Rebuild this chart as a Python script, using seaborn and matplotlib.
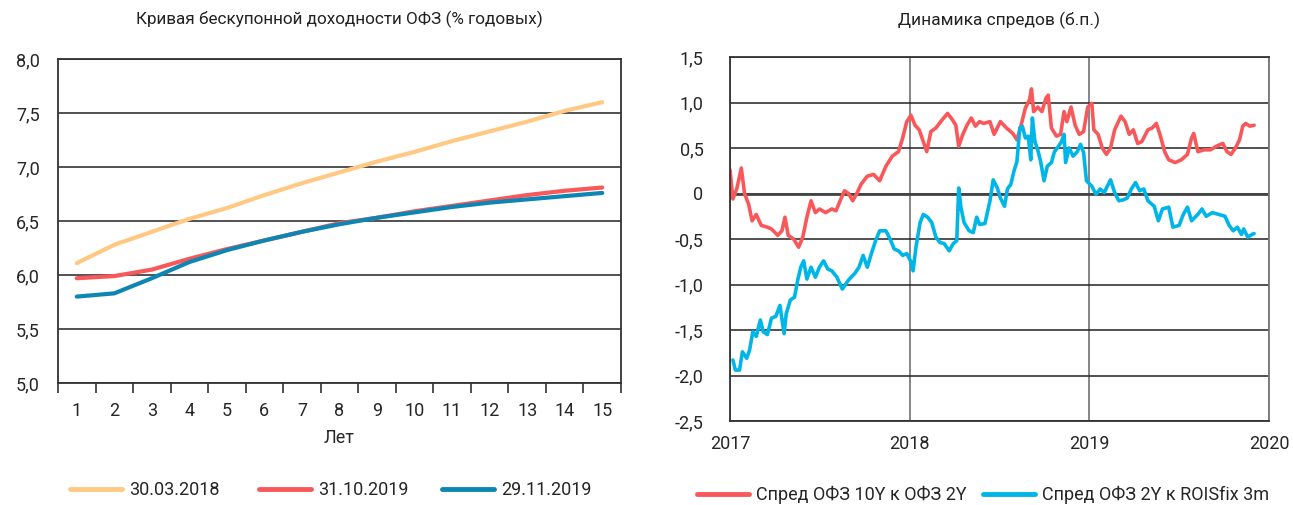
import matplotlib
matplotlib.use("Agg")
import matplotlib.pyplot as plt
import seaborn as sns
import pandas as pd
import numpy as np
from matplotlib.lines import Line2D
from matplotlib.ticker import FuncFormatter

# ---------------- data: left chart (yield curve) ----------------
years = list(range(1, 16))
curve_2018_03_30 = [6.11, 6.28, 6.40, 6.52, 6.62, 6.74, 6.85, 6.95, 7.05, 7.14, 7.24, 7.33, 7.42, 7.52, 7.60]
curve_2019_10_31 = [5.97, 5.99, 6.05, 6.15, 6.24, 6.32, 6.40, 6.48, 6.53, 6.59, 6.64, 6.69, 6.74, 6.78, 6.81]
curve_2019_11_29 = [5.80, 5.83, 5.97, 6.12, 6.23, 6.32, 6.40, 6.47, 6.53, 6.58, 6.63, 6.67, 6.70, 6.73, 6.76]
curve_labels = ["30.03.2018", "31.10.2019", "29.11.2019"]

# ---------------- data: right chart (spreads), x in decimal years ----------------
spread10y2y_t = [2017.000, 2017.016, 2017.039, 2017.063, 2017.081, 2017.104, 2017.123, 2017.146, 2017.174, 2017.208,
                 2017.231, 2017.266, 2017.289, 2017.306, 2017.324, 2017.354, 2017.382, 2017.405, 2017.428, 2017.451,
                 2017.475, 2017.498, 2017.532, 2017.567, 2017.590, 2017.613, 2017.637, 2017.660, 2017.683, 2017.706,
                 2017.729, 2017.764, 2017.799, 2017.833, 2017.868, 2017.903, 2017.938, 2017.961, 2017.984, 2018.007,
                 2018.030, 2018.053, 2018.076, 2018.095, 2018.118, 2018.146, 2018.181, 2018.211, 2018.238, 2018.257,
                 2018.273, 2018.296, 2018.319, 2018.343, 2018.366, 2018.389, 2018.412, 2018.447, 2018.470, 2018.505,
                 2018.539, 2018.574, 2018.597, 2018.620, 2018.644, 2018.667, 2018.678, 2018.690, 2018.713, 2018.736,
                 2018.759, 2018.771, 2018.789, 2018.817, 2018.840, 2018.859, 2018.875, 2018.898, 2018.921, 2018.944,
                 2018.968, 2018.991, 2019.014, 2019.025, 2019.049, 2019.072, 2019.095, 2019.118, 2019.141, 2019.176,
                 2019.199, 2019.222, 2019.245, 2019.269, 2019.292, 2019.326, 2019.350, 2019.373, 2019.396, 2019.419,
                 2019.442, 2019.477, 2019.512, 2019.546, 2019.569, 2019.581, 2019.604, 2019.639, 2019.674, 2019.708,
                 2019.743, 2019.766, 2019.789, 2019.813, 2019.836, 2019.854, 2019.870, 2019.894, 2019.917]
spread10y2y_v = [0.26, -0.06, 0.06, 0.28, 0.00, -0.12, -0.30, -0.23, -0.35, -0.37,
                 -0.39, -0.46, -0.41, -0.26, -0.46, -0.50, -0.59, -0.48, -0.26, -0.08,
                 -0.21, -0.17, -0.21, -0.17, -0.19, -0.08, 0.03, 0.00, -0.08, 0.00,
                 0.10, 0.19, 0.21, 0.14, 0.30, 0.41, 0.46, 0.61, 0.79, 0.86,
                 0.75, 0.70, 0.57, 0.46, 0.68, 0.72, 0.81, 0.88, 0.81, 0.75,
                 0.52, 0.65, 0.75, 0.83, 0.74, 0.79, 0.77, 0.79, 0.65, 0.79,
                 0.72, 0.66, 0.59, 0.75, 0.94, 1.03, 1.15, 0.90, 0.95, 0.90,
                 1.05, 1.08, 0.72, 0.63, 0.65, 0.90, 0.79, 0.95, 0.75, 0.65,
                 0.68, 0.95, 0.99, 0.70, 0.65, 0.50, 0.43, 0.50, 0.70, 0.85,
                 0.79, 0.65, 0.70, 0.55, 0.57, 0.70, 0.72, 0.77, 0.63, 0.46,
                 0.37, 0.34, 0.37, 0.43, 0.61, 0.66, 0.46, 0.48, 0.48, 0.52,
                 0.55, 0.46, 0.43, 0.50, 0.59, 0.74, 0.77, 0.74, 0.75]

spread2yrois_t = [2017.016, 2017.030, 2017.053, 2017.069, 2017.093, 2017.109, 2017.127, 2017.146, 2017.169, 2017.185,
                  2017.208, 2017.231, 2017.255, 2017.278, 2017.301, 2017.313, 2017.336, 2017.359, 2017.377, 2017.394,
                  2017.410, 2017.428, 2017.451, 2017.475, 2017.498, 2017.521, 2017.544, 2017.567, 2017.595, 2017.625,
                  2017.660, 2017.694, 2017.718, 2017.741, 2017.764, 2017.787, 2017.810, 2017.833, 2017.868, 2017.891,
                  2017.914, 2017.938, 2017.961, 2017.984, 2018.007, 2018.019, 2018.035, 2018.058, 2018.076, 2018.100,
                  2018.123, 2018.146, 2018.169, 2018.192, 2018.220, 2018.243, 2018.262, 2018.273, 2018.285, 2018.303,
                  2018.331, 2018.354, 2018.373, 2018.389, 2018.419, 2018.447, 2018.465, 2018.488, 2018.505, 2018.528,
                  2018.544, 2018.563, 2018.581, 2018.597, 2018.613, 2018.627, 2018.644, 2018.660, 2018.674, 2018.683,
                  2018.697, 2018.713, 2018.729, 2018.748, 2018.766, 2018.789, 2018.806, 2018.829, 2018.845, 2018.859,
                  2018.868, 2018.887, 2018.910, 2018.933, 2018.951, 2018.968, 2018.984, 2019.014, 2019.037, 2019.060,
                  2019.083, 2019.095, 2019.118, 2019.141, 2019.164, 2019.188, 2019.211, 2019.234, 2019.257, 2019.280,
                  2019.303, 2019.326, 2019.361, 2019.384, 2019.407, 2019.442, 2019.465, 2019.500, 2019.523, 2019.546,
                  2019.569, 2019.604, 2019.627, 2019.650, 2019.685, 2019.720, 2019.755, 2019.778, 2019.801, 2019.824,
                  2019.847, 2019.859, 2019.882, 2019.905, 2019.917]
spread2yrois_v = [-1.83, -1.94, -1.94, -1.74, -1.81, -1.72, -1.52, -1.57, -1.39, -1.52,
                  -1.55, -1.37, -1.35, -1.23, -1.54, -1.32, -1.17, -1.14, -0.95, -0.81,
                  -0.74, -0.94, -0.81, -0.92, -0.81, -0.74, -0.83, -0.85, -0.92, -1.05,
                  -0.95, -0.88, -0.81, -0.68, -0.81, -0.66, -0.52, -0.41, -0.41, -0.50,
                  -0.61, -0.63, -0.68, -0.66, -0.75, -0.85, -0.59, -0.32, -0.23, -0.26,
                  -0.32, -0.48, -0.54, -0.55, -0.63, -0.55, -0.52, 0.06, -0.15, -0.32,
                  -0.41, -0.43, -0.26, -0.34, -0.33, -0.08, 0.15, 0.06, -0.05, -0.14,
                  0.05, 0.10, 0.25, 0.35, 0.72, 0.74, 0.61, 0.63, 0.37, 0.83,
                  0.57, 0.48, 0.35, 0.14, 0.30, 0.34, 0.46, 0.52, 0.57, 0.65,
                  0.34, 0.50, 0.41, 0.46, 0.54, 0.45, 0.14, 0.08, -0.01, 0.05,
                  0.01, 0.06, 0.15, 0.01, -0.08, -0.07, -0.05, 0.05, 0.12, 0.03,
                  0.05, -0.08, -0.14, -0.30, -0.17, -0.15, -0.37, -0.35, -0.23, -0.15,
                  -0.30, -0.23, -0.17, -0.25, -0.21, -0.23, -0.25, -0.35, -0.41, -0.37,
                  -0.45, -0.39, -0.48, -0.45, -0.44]
spread_labels = ["Спред ОФЗ 10Y к ОФЗ 2Y", "Спред ОФЗ 2Y к ROISfix 3m"]

curve_colors = ["#FFC984", "#F9585A", "#0E86B3"]
spread_colors = ["#F9585A", "#00B6E8"]

sns.set_theme(style="white")
plt.rcParams["font.family"] = ["Roboto", "DejaVu Sans"]
FS = 13

fig = plt.figure(figsize=(12.93, 5.05), dpi=100)
W, H = 1293, 505
def rect(x0, y0, x1, y1):
    return [x0 / W, 1 - y1 / H, (x1 - x0) / W, (y1 - y0) / H]

ax1 = fig.add_axes(rect(58, 59, 621, 383))
ax2 = fig.add_axes(rect(730, 57, 1269, 421))

# ----- left chart -----
df_curve = pd.DataFrame({
    "year": years * 3,
    "value": curve_2018_03_30 + curve_2019_10_31 + curve_2019_11_29,
    "date": [curve_labels[0]] * 15 + [curve_labels[1]] * 15 + [curve_labels[2]] * 15,
})
sns.lineplot(data=df_curve, x="year", y="value", hue="date", hue_order=curve_labels,
             palette=curve_colors, linewidth=3, ax=ax1, legend=False)
ax1.set_xlim(0.5, 15.5)
ax1.set_ylim(5.0, 8.0)
ax1.set_yticks(np.arange(5.0, 8.01, 0.5))
ax1.yaxis.set_major_formatter(FuncFormatter(lambda v, p: f"{v:.1f}".replace(".", ",")))
ax1.set_xticks(years)
ax1.set_xticks(np.arange(0.5, 15.6, 1), minor=True)
ax1.tick_params(axis="x", which="major", length=0, pad=14, labelsize=FS)
ax1.tick_params(axis="x", which="minor", length=7, width=1.2, direction="out", color="#333333", bottom=True)
ax1.tick_params(axis="y", length=0, pad=13, labelsize=FS)
ax1.grid(axis="y", color="#222222", linewidth=1.1)
ax1.set_axisbelow(True)
for s in ax1.spines.values():
    s.set_visible(True)
    s.set_color("#333333")
    s.set_linewidth(1.3)
ax1.set_xlabel("Лет", fontsize=FS, labelpad=6)
ax1.set_ylabel("")
ax1.set_title("Кривая бескупонной доходности ОФЗ (% годовых)", fontsize=12.3, pad=25, color="#222222")

# ----- right chart -----
df_spread = pd.DataFrame({
    "t": spread10y2y_t + spread2yrois_t,
    "value": spread10y2y_v + spread2yrois_v,
    "series": [spread_labels[0]] * len(spread10y2y_t) + [spread_labels[1]] * len(spread2yrois_t),
})
sns.lineplot(data=df_spread, x="t", y="value", hue="series", hue_order=spread_labels,
             palette=spread_colors, linewidth=2.6, ax=ax2, legend=False, sort=False)
ax2.set_xlim(2017, 2020)
ax2.set_ylim(-2.5, 1.5)
ax2.set_xticks([2017, 2018, 2019, 2020])
ax2.xaxis.set_major_formatter(FuncFormatter(lambda v, p: f"{int(round(v))}"))
ax2.set_yticks(np.arange(-2.5, 1.51, 0.5))
def fmt_r(v, p):
    if abs(v) < 1e-9:
        return "0"
    return f"{v:.1f}".replace(".", ",")
ax2.yaxis.set_major_formatter(FuncFormatter(fmt_r))
ax2.tick_params(axis="both", length=0, labelsize=FS)
ax2.tick_params(axis="y", pad=19)
ax2.tick_params(axis="x", pad=10)
ax2.grid(axis="y", color="#222222", linewidth=1.1)
ax2.grid(axis="x", color="#666666", linewidth=1.1)
ax2.axhline(0, color="#444444", linewidth=2, zorder=1)
ax2.set_axisbelow(True)
for s in ax2.spines.values():
    s.set_visible(True)
    s.set_color("#333333")
    s.set_linewidth(1.3)
ax2.spines["right"].set_color("#777777")
ax2.set_xlabel("")
ax2.set_ylabel("")
ax2.set_title("Динамика спредов (б.п.)", fontsize=12.5, pad=23, color="#222222")

# ----- legends: one entry each, placed like the reference -----
fs_px = FS * 100 / 72.0
def entry(color, label, x_line_start, y_center, line_px=52, gap_px=7):
    h = Line2D([0], [0], color=color, lw=3.5)
    fig.legend([h], [label], loc="center left", bbox_to_anchor=(x_line_start / W, 1 - y_center / H),
               frameon=False, fontsize=FS, handlelength=line_px / fs_px, handletextpad=gap_px / fs_px,
               borderpad=0, borderaxespad=0)

entry(curve_colors[0], curve_labels[0], 70, 490)
entry(curve_colors[1], curve_labels[1], 259, 490)
entry(curve_colors[2], curve_labels[2], 442, 490)
entry(spread_colors[0], spread_labels[0], 697, 495)
entry(spread_colors[1], spread_labels[1], 983, 495)

fig.savefig("out.png", dpi=100)
